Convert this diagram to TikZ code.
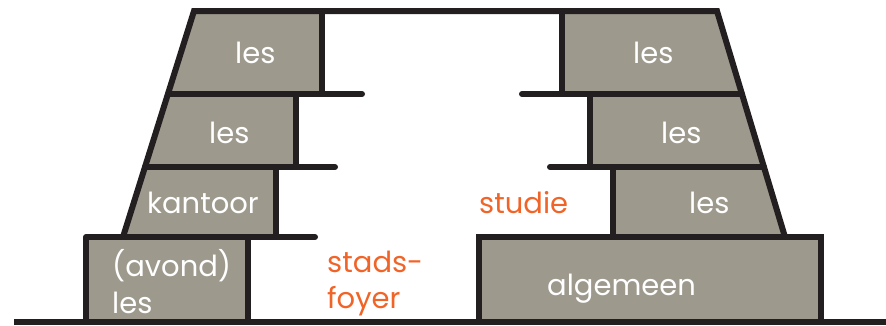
\documentclass[tikz,border=0pt]{standalone}
\usepackage{fontspec}
\setmainfont{Poppins}
\definecolor{wallgray}{RGB}{157,153,141}
\definecolor{edge}{RGB}{35,31,32}
\definecolor{accent}{RGB}{240,100,40}
\begin{document}
\begin{tikzpicture}[x=1pt,y=-1pt,
  outline/.style={draw=edge,line width=6pt,line join=miter},
  shelf/.style={draw=edge,line width=6pt,line cap=round},
  block/.style={fill=wallgray},
  label/.style={text=white,font=\fontsize{29}{33}\selectfont,anchor=base west,inner sep=0pt},
  place/.style={text=accent,font=\fontsize{29}{33}\selectfont,anchor=base west,inner sep=0pt}]
\useasboundingbox (0,0) rectangle (886,325);

% left tower: corners along the slanted outer wall
\coordinate (lt) at (194,11);
\coordinate (l1) at (168,94);
\coordinate (l2) at (145,167);
\coordinate (l3) at (123,237);
% right tower
\coordinate (rt) at (717,11);
\coordinate (r1) at (742,94);
\coordinate (r2) at (764,167);
\coordinate (r3) at (785,237);

% grey floors
\fill[block] (lt) -- (322,11) -- (322,94) -- (l1) -- cycle;
\fill[block] (l1) -- (296,94) -- (296,167) -- (l2) -- cycle;
\fill[block] (l2) -- (276,167) -- (276,237) -- (l3) -- cycle;
\fill[block] (86,237) rectangle (248,321);
\fill[block] (562,11) -- (rt) -- (r1) -- (562,94) -- cycle;
\fill[block] (590,94) -- (r1) -- (r2) -- (590,167) -- cycle;
\fill[block] (613,167) -- (r2) -- (r3) -- (613,237) -- cycle;
\fill[block] (479,237) rectangle (821,321);

% roof and outer walls
\draw[outline] (l3) -- (lt) -- (rt) -- (r3);
% left inner walls and floors
\draw[outline] (322,11) -- (322,94);
\draw[outline] (296,94) -- (296,167);
\draw[outline] (276,167) -- (276,237);
\draw[shelf] (l1) -- (362,94);
\draw[shelf] (l2) -- (335,167);
\draw[shelf] (315,237) -- (86,237);
\draw[outline] (86,237) -- (86,321);
\draw[outline] (248,237) -- (248,321);
% right inner walls and floors
\draw[outline] (562,11) -- (562,94);
\draw[outline] (590,94) -- (590,167);
\draw[outline] (613,167) -- (613,237);
\draw[shelf] (522,94) -- (r1);
\draw[shelf] (550,167) -- (r2);
\draw[outline] (479,321) -- (479,237) -- (821,237) -- (821,321);
% ground
\draw[draw=edge,line width=6pt] (14,322) -- (886,322);

% labels
\node[label] (a1) at (235,63) {les};
\node[label] (a2) at (209,143) {les};
\node[label] (a3) at (147,213) {kantoor};
\node[label] (a4) at (112,276) {(avond)};
\node[label] (a5) at (112,313) {les};
\node[label] (b1) at (633,63) {les};
\node[label] (b2) at (661,143) {les};
\node[label] (b3) at (689,213) {les};
\node[label] (b4) at (547,295) {algemeen};
\node[place] (p1) at (327,272) {stads-};
\node[place] (p2) at (327,308) {foyer};
\node[place] (p3) at (479,213) {studie};
\end{tikzpicture}
\end{document}
